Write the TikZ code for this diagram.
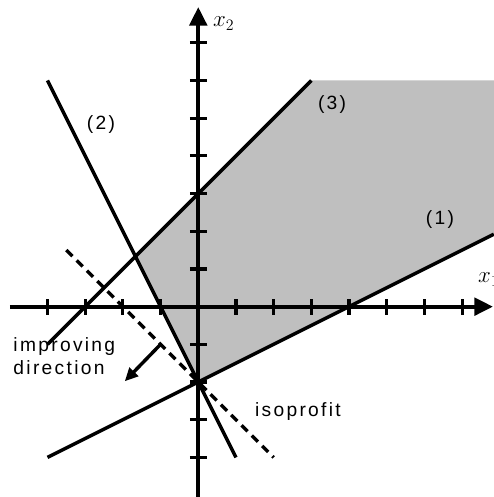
\documentclass[tikz,border=0pt]{standalone}
\usepackage{fontspec}
\setmainfont{Liberation Sans}
\newfontfamily\rotulo[LetterSpace=12]{Liberation Sans}
\usetikzlibrary{arrows.meta}

\begin{document}
\begin{tikzpicture}[
    x=1cm,
    y=1cm,
    eje/.style={
        line width=3.2pt,
        -{Triangle[width=13pt,length=14pt]}
    },
    marca/.style={
        line width=2.4pt
    },
    restriccion/.style={
        line width=2.6pt
    },
    isobeneficio/.style={
        line width=2.6pt,
        dash pattern=on 6.5pt off 4.5pt
    },
    direccion/.style={
        line width=2.6pt,
        -{Triangle[width=9pt,length=10pt]}
    },
    etiqueta/.style={
        font=\fontsize{14.5}{17.5}\rotulo,
        inner sep=0pt
    },
    nombrevar/.style={
        font=\fontsize{17}{19}\selectfont,
        inner sep=0pt
    }
]
    \useasboundingbox (-5.26,-5.05) rectangle (7.84,8.135);

    \coordinate (vertice) at (0,-2);
    \coordinate (cruce) at (-5/3,4/3);
    \coordinate (techo) at (3,6);

    \fill[black!25] (vertice) -- (7.84,1.92) -- (7.84,6)
        -- (techo) -- (cruce) -- cycle;

    \draw[eje] (-5,0) -- (7.82,0);
    \draw[eje] (0,-5.05) -- (0,7.95);
    \foreach \i in {-4,...,-1,1,2,...,7}
        \draw[marca] (\i,-0.21) -- (\i,0.21);
    \foreach \j in {-4,...,-1,1,2,...,7}
        \draw[marca] (-0.22,\j) -- (0.22,\j);

    \node[nombrevar,anchor=base west] (eje-x) at (7.42,0.63) {$x_1$};
    \node[nombrevar,anchor=base west] (eje-y) at (0.39,7.42) {$x_2$};

    \draw[restriccion] (-4,-4) -- (vertice) -- (7.84,1.92);
    \draw[restriccion] (-4,6) -- (cruce) -- (vertice) -- (1,-4);
    \draw[restriccion] (-4,-1) -- (cruce) -- (techo);

    \draw[isobeneficio] (-3.5,1.5) -- (2,-4);

    \coordinate (pie) at (-1,-1);
    \coordinate (punta) at (-1.95,-1.98);
    \draw[direccion] (pie) -- (punta);

    \node[etiqueta] (r1) at (6.41,2.30) {(1)};
    \node[etiqueta] (r2) at (-2.58,4.82) {(2)};
    \node[etiqueta] (r3) at (3.55,5.35) {(3)};

    \node[etiqueta,anchor=base west,align=left] (mejora) at (-4.91,-1.81)
        {improving\\direction};
    \node[etiqueta,anchor=base west] (isoprofit) at (1.50,-2.92)
        {isoprofit};
\end{tikzpicture}
\end{document}
